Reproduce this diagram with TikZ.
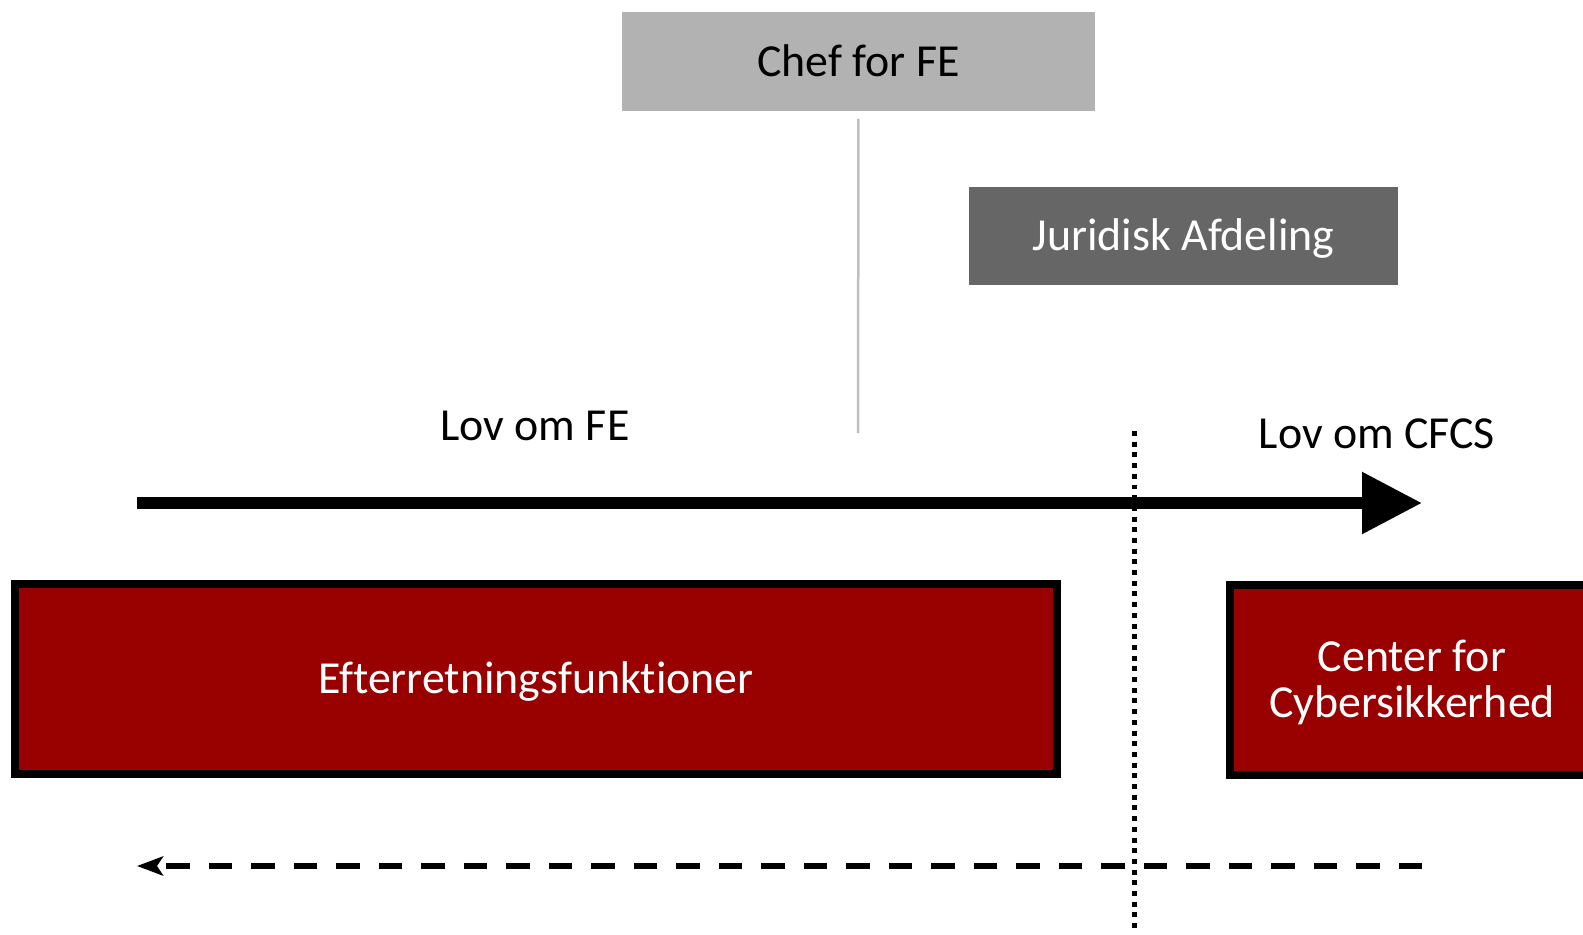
\documentclass[tikz,border=0pt]{standalone}
\usepackage{fontspec}
\setmainfont{Carlito}[Ligatures=NoCommon]
\usetikzlibrary{arrows.meta}
\definecolor{chefgrey}{RGB}{178,178,178}
\definecolor{jurgrey}{RGB}{102,102,102}
\definecolor{fered}{RGB}{153,0,0}
\definecolor{linegrey}{RGB}{191,191,191}
\begin{document}
\begin{tikzpicture}[x=0.02cm,y=-0.02cm,
  every node/.style={font=\fontsize{26.1}{26.6}\selectfont, text height=16.5pt, text depth=0pt, inner sep=0pt, outer sep=0pt, align=center},
  greybox/.style={rectangle, minimum width=9.46cm, minimum height=1.98cm},
  redbox/.style={rectangle, draw=black, line width=0.16cm, fill=fered, text=white},
  mainarrow/.style={line width=0.24cm, -{Triangle[length=1.2cm, width=1.18cm]}},
  returnarrow/.style={line width=0.12cm, dash pattern=on 0.466cm off 0.384cm, -{Stealth[length=0.52cm, width=0.38cm, inset=0.12cm]}},
  divider/.style={line width=0.1cm, dash pattern=on 0.1cm off 0.114cm},
  chefline/.style={draw=linegrey, line width=0.05cm}]
\useasboundingbox (0,0) rectangle (1583,934);
\clip (0,0) rectangle (1583,934);

\node[greybox, fill=chefgrey, minimum width=9.46cm, minimum height=1.98cm] (chef) at (858.5,61.5) {Chef for FE};
\node[greybox, fill=jurgrey, text=white, minimum width=8.58cm, minimum height=1.96cm] (jur) at (1183.5,236) {Juridisk Afdeling};

\coordinate (vl) at (858,433);
\draw[chefline, shorten <=0.16cm] (chef.south) -- (vl);

\node[anchor=base] (lovfe) at (535,440) {Lov om FE};
\node[anchor=base] (lovcfcs) at (1377,448) {Lov om CFCS};

\coordinate (as) at (137,503);
\coordinate (ae) at (1422,503);
\draw[mainarrow] (as) -- (ae);

\node[redbox, minimum width=20.84cm, minimum height=3.82cm] (efter) at (536,679) {Efterretningsfunktioner};
\node[redbox, minimum width=7.28cm, minimum height=3.8cm, text height=43.1pt, text depth=0pt] (cfcs) at (1412,680) {Center for\\Cybersikkerhed};

\coordinate (ds) at (1422,866);
\coordinate (de) at (137,866);
\draw[returnarrow] (ds) -- (de);

\coordinate (dt) at (1134,431);
\coordinate (db) at (1134,930);
\draw[divider] (dt) -- (db);
\end{tikzpicture}
\end{document}
